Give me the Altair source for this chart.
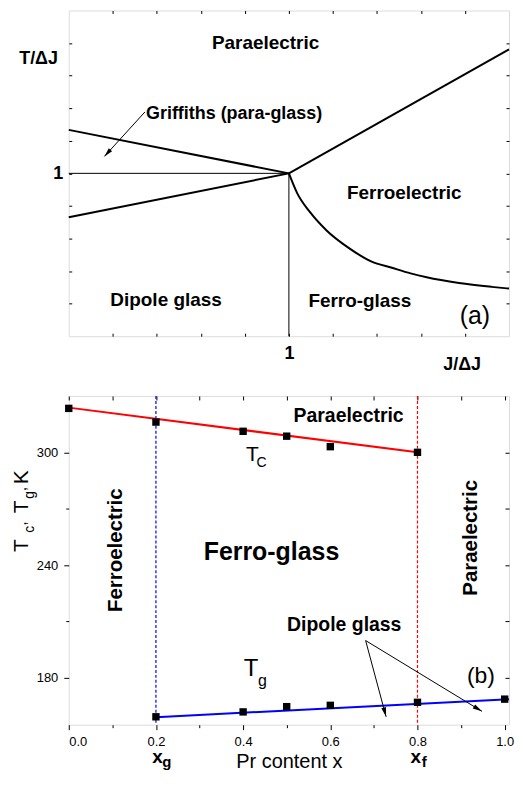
import math
import altair as alt
import pandas as pd

FONT = "Liberation Sans"

# ---------------- layout ----------------
WA, HA = 442, 327          # panel (a) plot area
WB, HB = 442, 330          # panel (b) plot area
GAP = 60

# ---------------- panel (a): model phase diagram ----------------
A_DOMAIN = [0.0, 2.0]
A_TICKS = [0.2, 0.4, 0.6, 0.8, 1.0, 1.2, 1.4, 1.6, 1.8]

a_seg_id = ["ul", "ul", "ll", "ll", "ru", "ru"]
a_seg_x = [0.0, 1.0, 0.0, 1.0, 1.0, 2.0]
a_seg_y = [1.267, 1.0, 0.730, 1.0, 1.0, 1.761]

a_curve_x = [1.0, 1.0375, 1.097, 1.170, 1.273, 1.376, 1.464, 1.553, 1.626, 1.773, 1.921, 2.0]
a_curve_y = [1.0, 0.879, 0.760, 0.651, 0.541, 0.458, 0.422, 0.386, 0.362, 0.327, 0.303, 0.2925]

a_thin_id = ["h", "h", "v", "v"]
a_thin_x = [0.0, 1.0, 1.0, 1.0]
a_thin_y = [1.0, 1.0, 0.0, 1.0]

a_labels = ["Paraelectric", "Griffiths (para-glass)", "Ferroelectric", "Dipole glass", "Ferro-glass"]
a_label_x = [0.894, 0.751, 1.524, 0.442, 1.3225]
a_label_y = [1.801, 1.367, 0.880, 0.223, 0.217]
a_label_size = [19, 18, 19, 19, 19]

a_arrow_from = (0.346, 1.377)
a_arrow_to = (0.162, 1.104)

# ---------------- panel (b): Pr content ----------------
B_XDOMAIN = [0.0, 1.01]
B_YDOMAIN = [155.0, 330.0]
x_tc = [0.0, 0.2, 0.4, 0.5, 0.6, 0.8]
tc = [323.4, 316.1, 311.2, 308.6, 303.0, 300.0]
x_tg = [0.2, 0.4, 0.5, 0.6, 0.8, 1.0]
tg = [159.2, 161.8, 164.6, 165.3, 166.9, 168.6]
fit_tc_x = [0.0, 0.8]
fit_tc = [323.8, 300.0]
fit_tg_x = [0.2, 1.01]
fit_tg = [159.0, 168.6]
x_g, x_f = 0.2, 0.8

b_bold = ["Paraelectric", "Ferro-glass", "Dipole glass"]
b_bold_x = [0.642, 0.465, 0.632]
b_bold_y = [319.1, 247.0, 208.2]
b_bold_size = [19.5, 25, 19.5]

b_rot = ["Ferroelectric", "Paraelectric"]
b_rot_x = [0.108, 0.922]
b_rot_y = [247.9, 254.5]

b_norm = ["T", "C", "T", "g", "(b)"]
b_norm_x = [0.421, 0.4425, 0.418, 0.444, 0.9455]
b_norm_y = [298.3, 294.1, 184.4, 178.0, 180.9]
b_norm_size = [21, 14, 24, 16, 23]

b_arrow_from = (0.681, 199.8)
b_arrow_to = [(0.728, 159.2), (0.948, 162.1)]

B_XMAJOR = [0.0, 0.2, 0.4, 0.6, 0.8, 1.0]
B_XMINOR = [0.1, 0.3, 0.5, 0.7, 0.9]
B_XALL = [0.0, 0.1, 0.2, 0.3, 0.4, 0.5, 0.6, 0.7, 0.8, 0.9, 1.0]
B_YMAJOR = [180, 240, 300]
B_YMINOR = [210, 270]
B_YALL = [180, 210, 240, 270, 300]

# pixel helpers (layout only)
AX_PX = WA / (A_DOMAIN[1] - A_DOMAIN[0])
AY_PX = HA / (A_DOMAIN[1] - A_DOMAIN[0])
BX_PX = WB / (B_XDOMAIN[1] - B_XDOMAIN[0])
BY_PX = HB / (B_YDOMAIN[1] - B_YDOMAIN[0])


def arrow_angle(x0, y0, x1, y1, sx, sy):
    return (math.degrees(math.atan2((x1 - x0) * sx, (y1 - y0) * sy)) + 360) % 360


ARROW_SHAPE = "M0,0L-0.5,2L0.5,2Z"

xa = alt.Scale(domain=A_DOMAIN, nice=False, zero=False)
ya = alt.Scale(domain=A_DOMAIN, nice=False, zero=False)
xb = alt.Scale(domain=B_XDOMAIN, nice=False, zero=False)
yb = alt.Scale(domain=B_YDOMAIN, nice=False, zero=False)

common_axis = dict(grid=False, labelFont=FONT, titleFont=FONT, labelColor="black",
                   tickColor="black", titleColor="black", domain=False)

# ---------- panel (a) ----------
df_seg = pd.DataFrame({"id": a_seg_id, "x": a_seg_x, "y": a_seg_y})
df_curve = pd.DataFrame({"x": a_curve_x, "y": a_curve_y})
df_thin = pd.DataFrame({"id": a_thin_id, "x": a_thin_x, "y": a_thin_y})
df_alab = pd.DataFrame({"t": a_labels, "x": a_label_x, "y": a_label_y, "s": a_label_size})

ax_a_bottom = alt.Axis(orient="bottom", values=A_TICKS, tickSize=3, offset=-3,
                       labelExpr="datum.value == 1 ? '1' : ''", labelOverlap=False,
                       labelFontWeight="bold", labelFontSize=18, labelPadding=8, title=None,
                       **common_axis)
ax_a_left = alt.Axis(orient="left", values=A_TICKS, tickSize=3, offset=-3,
                     labelExpr="datum.value == 1 ? '1' : ''", labelOverlap=False,
                     labelFontWeight="bold", labelFontSize=18, labelPadding=6, title=None,
                     **common_axis)
ax_a_top = alt.Axis(orient="top", values=A_TICKS, tickSize=3, offset=-3, labels=False,
                    title=None, **common_axis)
ax_a_right = alt.Axis(orient="right", values=A_TICKS, tickSize=3, offset=-3, labels=False,
                      title=None, **common_axis)

a_thick = alt.Chart(df_seg).mark_line(color="black", strokeWidth=2).encode(
    x=alt.X("x:Q", scale=xa, axis=ax_a_bottom),
    y=alt.Y("y:Q", scale=ya, axis=ax_a_left),
    detail="id:N",
)
a_thin = alt.Chart(df_thin).mark_line(color="black", strokeWidth=1).encode(
    x=alt.X("x:Q", scale=xa, axis=ax_a_top),
    y=alt.Y("y:Q", scale=ya, axis=ax_a_right),
    detail="id:N",
)
a_curve = alt.Chart(df_curve).mark_line(color="black", strokeWidth=2, interpolate="monotone").encode(
    x=alt.X("x:Q", scale=xa, axis=None),
    y=alt.Y("y:Q", scale=ya, axis=None),
)
a_text = alt.Chart(df_alab).mark_text(font=FONT, fontWeight="bold", color="black",
                                      baseline="middle").encode(
    x=alt.X("x:Q", scale=xa, axis=None),
    y=alt.Y("y:Q", scale=ya, axis=None),
    text="t:N",
    size=alt.Size("s:Q", scale=None),
)
df_a_misc = pd.DataFrame({
    "t": ["T/\u0394J", "J/\u0394J"],
    "x": [-30.3 / AX_PX, 1.787],
    "y": [1.705, -29.0 / AY_PX],
})
a_axis_titles = alt.Chart(df_a_misc).mark_text(font=FONT, fontWeight="bold", fontSize=18,
                                              color="black", baseline="middle").encode(
    x=alt.X("x:Q", scale=xa, axis=None),
    y=alt.Y("y:Q", scale=ya, axis=None),
    text="t:N",
)
df_a_paren = pd.DataFrame({"t": ["(a)"], "x": [1.845], "y": [0.123]})
a_paren = alt.Chart(df_a_paren).mark_text(font=FONT, fontSize=25, color="black",
                                          baseline="middle").encode(
    x=alt.X("x:Q", scale=xa, axis=None),
    y=alt.Y("y:Q", scale=ya, axis=None),
    text="t:N",
)
df_a_arrow = pd.DataFrame({"x": [a_arrow_from[0]], "y": [a_arrow_from[1]],
                           "x2": [a_arrow_to[0]], "y2": [a_arrow_to[1]],
                           "ang": [arrow_angle(*a_arrow_from, *a_arrow_to, AX_PX, AY_PX)]})
a_arrow_line = alt.Chart(df_a_arrow).mark_rule(color="black", strokeWidth=1).encode(
    x=alt.X("x:Q", scale=xa, axis=None), y=alt.Y("y:Q", scale=ya, axis=None),
    x2="x2:Q", y2="y2:Q",
)
a_arrow_head = alt.Chart(df_a_arrow).mark_point(shape=ARROW_SHAPE, filled=True, color="black",
                                                size=80, opacity=1).encode(
    x=alt.X("x2:Q", scale=xa, axis=None), y=alt.Y("y2:Q", scale=ya, axis=None),
    angle=alt.Angle("ang:Q", scale=None),
)

panel_a = alt.layer(a_thick, a_thin, a_curve, a_arrow_line, a_arrow_head, a_text,
                    a_axis_titles, a_paren).resolve_axis(x="independent", y="independent").properties(
    width=WA, height=HA)

# ---------- panel (b) ----------
df_tc = pd.DataFrame({"x": x_tc, "y": tc})
df_tg = pd.DataFrame({"x": x_tg, "y": tg})
df_fit_tc = pd.DataFrame({"x": fit_tc_x, "y": fit_tc})
df_fit_tg = pd.DataFrame({"x": fit_tg_x, "y": fit_tg})
df_xg = pd.DataFrame({"x": [x_g]})
df_xf = pd.DataFrame({"x": [x_f]})

ax_b_xmaj = alt.Axis(orient="bottom", values=B_XMAJOR, format=".1f", tickSize=5,
                     labelFontSize=13, labelPadding=6, labelOverlap=False,
                     title="Pr content x", titleFontSize=20, titleFontWeight="normal",
                     titlePadding=3, **common_axis)
ax_b_xmin = alt.Axis(orient="bottom", values=B_XMINOR, tickSize=3, labels=False, title=None,
                     **common_axis)
ax_b_xtop = alt.Axis(orient="top", values=B_XALL, tickSize=4, offset=-4, labels=False,
                     title=None, **common_axis)
ax_b_ymaj = alt.Axis(orient="left", values=B_YMAJOR, tickSize=5, labelFontSize=13,
                     labelPadding=6, title=None, **common_axis)
ax_b_ymin = alt.Axis(orient="left", values=B_YMINOR, tickSize=3, labels=False, title=None,
                     **common_axis)
ax_b_yright = alt.Axis(orient="right", values=B_YALL, tickSize=4, offset=-4, labels=False,
                       title=None, **common_axis)

b_bound_g = alt.Chart(df_xg).mark_rule(strokeWidth=1.2, strokeDash=[3, 2], color="#0000ff").encode(
    x=alt.X("x:Q", scale=xb, axis=ax_b_xtop),
)
b_bound_f = alt.Chart(df_xf).mark_rule(strokeWidth=1.2, strokeDash=[3, 2], color="#ff0000").encode(
    x=alt.X("x:Q", scale=xb, axis=None),
)
b_fit_tc = alt.Chart(df_fit_tc).mark_line(color="#ff0000", strokeWidth=2).encode(
    x=alt.X("x:Q", scale=xb, axis=ax_b_xmaj),
    y=alt.Y("y:Q", scale=yb, axis=ax_b_ymaj),
)
b_fit_tg = alt.Chart(df_fit_tg).mark_line(color="#0000ff", strokeWidth=2).encode(
    x=alt.X("x:Q", scale=xb, axis=ax_b_xmin),
    y=alt.Y("y:Q", scale=yb, axis=ax_b_ymin),
)
b_pts_tc = alt.Chart(df_tc).mark_square(color="black", size=55, opacity=1).encode(
    x=alt.X("x:Q", scale=xb, axis=None),
    y=alt.Y("y:Q", scale=yb, axis=ax_b_yright),
)
b_pts_tg = alt.Chart(df_tg).mark_square(color="black", size=55, opacity=1).encode(
    x=alt.X("x:Q", scale=xb, axis=None),
    y=alt.Y("y:Q", scale=yb, axis=None),
)

df_bbold = pd.DataFrame({"t": b_bold, "x": b_bold_x, "y": b_bold_y, "s": b_bold_size})
b_bold_text = alt.Chart(df_bbold).mark_text(font=FONT, fontWeight="bold", color="black",
                                           baseline="middle").encode(
    x=alt.X("x:Q", scale=xb, axis=None), y=alt.Y("y:Q", scale=yb, axis=None),
    text="t:N", size=alt.Size("s:Q", scale=None),
)
df_brot = pd.DataFrame({"t": b_rot, "x": b_rot_x, "y": b_rot_y})
b_rot_text = alt.Chart(df_brot).mark_text(font=FONT, fontWeight="bold", fontSize=20.5,
                                         color="black", angle=270, baseline="middle").encode(
    x=alt.X("x:Q", scale=xb, axis=None), y=alt.Y("y:Q", scale=yb, axis=None), text="t:N",
)
df_bnorm = pd.DataFrame({"t": b_norm, "x": b_norm_x, "y": b_norm_y, "s": b_norm_size})
b_norm_text = alt.Chart(df_bnorm).mark_text(font=FONT, color="black", baseline="middle").encode(
    x=alt.X("x:Q", scale=xb, axis=None), y=alt.Y("y:Q", scale=yb, axis=None),
    text="t:N", size=alt.Size("s:Q", scale=None),
)

# x_g and x_f labels under the axis (pixel offsets below the frame)
df_xsub = pd.DataFrame({
    "t": ["x", "g", "x", "f"],
    "x": [0.2037, 0.2142, 0.796, 0.810],
    "y": [B_YDOMAIN[0] - 38.5 / BY_PX, B_YDOMAIN[0] - 42.5 / BY_PX,
          B_YDOMAIN[0] - 38.5 / BY_PX, B_YDOMAIN[0] - 42.5 / BY_PX],
    "s": [19, 15, 19, 15],
    "a": ["center", "left", "center", "left"],
})
b_xsub_main = alt.Chart(df_xsub[df_xsub["a"] == "center"]).mark_text(
    font=FONT, fontWeight="bold", color="black", baseline="alphabetic", align="center").encode(
    x=alt.X("x:Q", scale=xb, axis=None), y=alt.Y("y:Q", scale=yb, axis=None),
    text="t:N", size=alt.Size("s:Q", scale=None),
)
b_xsub_sub = alt.Chart(df_xsub[df_xsub["a"] == "left"]).mark_text(
    font=FONT, fontWeight="bold", color="black", baseline="alphabetic", align="left").encode(
    x=alt.X("x:Q", scale=xb, axis=None), y=alt.Y("y:Q", scale=yb, axis=None),
    text="t:N", size=alt.Size("s:Q", scale=None),
)

# y-axis title "T_c, T_g, K" built from rotated pieces (pixel offsets left of the frame)
ytitle_t = ["T", "c", ",", "T", "g", ",", "K"]
ytitle_dx = [-41.0, -34.5, -43.0, -41.0, -34.5, -43.0, -41.0]
ytitle_y = [247.0, 257.2, 260.9, 267.5, 275.3, 279.3, 283.0]
ytitle_s = [21, 14, 16, 21, 14, 16, 21]
df_ytitle = pd.DataFrame({"t": ytitle_t, "x": [d / BX_PX for d in ytitle_dx],
                          "y": ytitle_y, "s": ytitle_s})
b_ytitle = alt.Chart(df_ytitle).mark_text(font=FONT, color="black", angle=270,
                                         align="left", baseline="alphabetic").encode(
    x=alt.X("x:Q", scale=xb, axis=None), y=alt.Y("y:Q", scale=yb, axis=None),
    text="t:N", size=alt.Size("s:Q", scale=None),
)

df_b_arrow = pd.DataFrame({
    "x": [b_arrow_from[0]] * 2, "y": [b_arrow_from[1]] * 2,
    "x2": [p[0] for p in b_arrow_to], "y2": [p[1] for p in b_arrow_to],
    "ang": [arrow_angle(b_arrow_from[0], b_arrow_from[1], p[0], p[1], BX_PX, BY_PX)
            for p in b_arrow_to],
})
b_arrow_line = alt.Chart(df_b_arrow).mark_rule(color="black", strokeWidth=1).encode(
    x=alt.X("x:Q", scale=xb, axis=None), y=alt.Y("y:Q", scale=yb, axis=None),
    x2="x2:Q", y2="y2:Q",
)
b_arrow_head = alt.Chart(df_b_arrow).mark_point(shape=ARROW_SHAPE, filled=True, color="black",
                                                size=90, opacity=1).encode(
    x=alt.X("x2:Q", scale=xb, axis=None), y=alt.Y("y2:Q", scale=yb, axis=None),
    angle=alt.Angle("ang:Q", scale=None),
)

panel_b = alt.layer(b_bound_g, b_bound_f, b_fit_tc, b_fit_tg, b_pts_tc, b_pts_tg, b_arrow_line,
                    b_arrow_head, b_bold_text, b_rot_text, b_norm_text, b_xsub_main,
                    b_xsub_sub, b_ytitle).resolve_axis(x="independent", y="independent").properties(
    width=WB, height=HB)

chart = alt.vconcat(panel_a, panel_b, spacing=GAP, bounds="flush").properties(
    padding={"left": 2, "top": 0, "right": 0, "bottom": 0}
).configure_view(stroke="black", strokeWidth=1.5).configure(background="white")

chart.save("out.html", embed_options={"renderer": "svg", "actions": False})
